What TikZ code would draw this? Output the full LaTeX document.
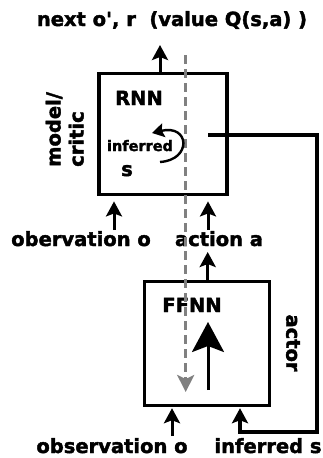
\documentclass[tikz,border=0pt]{standalone}
\usepackage{fontspec}
\setmainfont{DejaVu Sans}
\newfontfamily\heavyfont{DejaVu Sans Bold}[FakeBold=2]
\usetikzlibrary{positioning,arrows.meta}

\begin{document}
\begin{tikzpicture}[x=1pt,y=-1pt,
  lbl/.style={font=\heavyfont\fontsize{19.5}{23}\selectfont,inner sep=0pt,anchor=base},
  blk/.style={draw,line width=3.4pt,inner sep=0pt},
  arr/.style={line width=3pt,shorten >=1pt,-{Stealth[width=16pt,length=15pt,inset=3pt]}}]
\useasboundingbox (0,0) rectangle (323,458);
\node[blk,minimum width=128,minimum height=121] (rnn) at (162.8,134.2) {};
\node[blk,minimum width=125,minimum height=124] (ffnn) at (207.1,343.5) {};
\node[lbl] (next) at (172,26) {next o', r\ \ (value Q(s,a) )};
\node[lbl] (rnnlbl) at (139,105) {RNN};
\node[lbl,font=\heavyfont\fontsize{14.5}{15}\selectfont] (inf) at (140,151) {inferred};
\node[lbl] (slbl) at (127,176) {s};
\node[lbl,rotate=90,align=left,anchor=south west] (critic) at (84,167) {model/\\critic};
\node[lbl] (ffnnlbl) at (192,312) {FFNN};
\node[lbl,rotate=-90,anchor=center] (actor) at (293,343) {actor};
\node[lbl] (obs1) at (81,246) {obervation o};
\node[lbl] (act) at (219,246) {action a};
\node[lbl] (obs2) at (112,453) {observation o};
\node[lbl] (infs) at (268,453) {inferred s};
% gray dashed path
\coordinate (g1) at (185.7,55);
\coordinate (g2) at (185.7,392);
\draw[gray,line width=3pt,dash pattern=on 9pt off 5pt,-{Stealth[width=17pt,length=17pt,inset=4pt]}] (g1) -- (g2);
% arrows round the rnn
\coordinate (out) at (160,45);
\draw[arr,shorten >=0pt] (out |- rnn.north) -- (out);
\coordinate (o1) at (114,230);
\draw[arr,shorten >=5pt] (o1) -- (o1 |- rnn.south);
\coordinate (a1) at (208,230);
\draw[arr,shorten >=5pt] (a1) -- (a1 |- rnn.south);
\coordinate (a2) at (207.7,252);
\draw[arr,shorten >=0pt] (a2 |- ffnn.north) -- (a2);
% recurrent loop
\coordinate (loop) at (160,162);
\draw[line width=2.4pt,-{Stealth[width=14pt,length=12pt,inset=2pt]}] (loop) .. controls (192,160) and (190,124) .. (152,133);
% big arrow in the ffnn
\coordinate (b1) at (208,390);
\coordinate (b2) at (208,322);
\draw[line width=3pt,-{Stealth[width=32pt,length=30pt,inset=6pt]}] (b1) -- (b2);
% feedback of inferred s
\coordinate (tap) at (208,135);
\coordinate (rt) at (317,432);
\coordinate (is) at (240,432);
\draw[arr,line width=3.4pt] (tap) -- (tap -| rt) -- (rt) -- (is) -- (is |- ffnn.south);
\coordinate (o2) at (172,436);
\draw[arr] (o2) -- (o2 |- ffnn.south);
\end{tikzpicture}
\end{document}
